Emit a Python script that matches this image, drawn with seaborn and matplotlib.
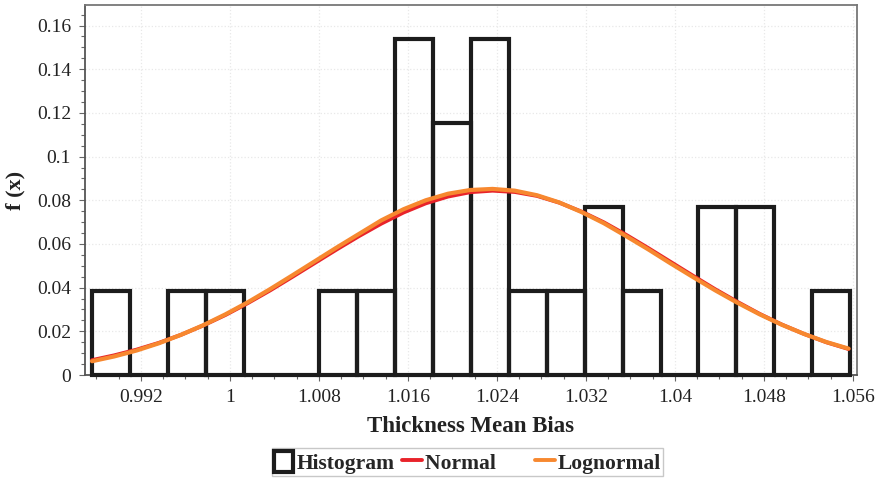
import numpy as np
import pandas as pd
import matplotlib
matplotlib.use("Agg")
import matplotlib.pyplot as plt
import matplotlib.ticker as mticker
from matplotlib.patches import Patch
from matplotlib.lines import Line2D
import seaborn as sns

# ---- data ----
bin_start = 0.9876
bin_width = 0.003407
bin_counts = [1, 0, 1, 1, 0, 0, 1, 1, 4, 3, 4, 1, 1, 2, 1, 0, 2, 2, 0, 1]

curve_x = [0.9876, 0.9896, 0.9916, 0.9936, 0.9956, 0.9976, 0.9996, 1.0016, 1.0036,
           1.0056, 1.0076, 1.0096, 1.0116, 1.0136, 1.0156, 1.0176, 1.0196, 1.0216,
           1.0236, 1.0256, 1.0276, 1.0296, 1.0316, 1.0336, 1.0356, 1.0376, 1.0396,
           1.0416, 1.0436, 1.0456, 1.0476, 1.0496, 1.0516, 1.0536, 1.0556]
normal_y = [0.0068, 0.0090, 0.0116, 0.0147, 0.0184, 0.0227, 0.0275, 0.0329, 0.0387,
            0.0449, 0.0512, 0.0575, 0.0636, 0.0693, 0.0744, 0.0786, 0.0817, 0.0837,
            0.0844, 0.0838, 0.0820, 0.0789, 0.0748, 0.0699, 0.0642, 0.0581, 0.0518,
            0.0455, 0.0393, 0.0335, 0.0280, 0.0231, 0.0188, 0.0150, 0.0119]
lognormal_y = [0.0063, 0.0085, 0.0112, 0.0145, 0.0184, 0.0228, 0.0278, 0.0333, 0.0393,
               0.0456, 0.0520, 0.0584, 0.0646, 0.0708, 0.0759, 0.0800, 0.0830, 0.0847,
               0.0852, 0.0844, 0.0823, 0.0790, 0.0746, 0.0695, 0.0636, 0.0575, 0.0511,
               0.0449, 0.0388, 0.0331, 0.0278, 0.0230, 0.0188, 0.0151, 0.0121]

x_ticks = [0.992, 1.0, 1.008, 1.016, 1.024, 1.032, 1.04, 1.048, 1.056]
y_ticks = [0, 0.02, 0.04, 0.06, 0.08, 0.1, 0.12, 0.14, 0.16]

# ---- style ----
sns.set_theme(style="white")
plt.rcParams["font.family"] = ["Liberation Serif", "DejaVu Serif"]

HIST_C = "#1c1c1c"
RED = "#e8232a"
ORANGE = "#f7882f"

fig = plt.figure(figsize=(8.79, 4.8), dpi=100)
ax = fig.add_axes([85 / 879, 105 / 480, (857 - 85) / 879, (375 - 5) / 480])

edges = [bin_start + bin_width * i for i in range(len(bin_counts) + 1)]
centers = [(edges[i] + edges[i + 1]) / 2 for i in range(len(bin_counts))]
hist_df = pd.DataFrame({"x": centers, "w": bin_counts})
sns.histplot(data=hist_df, x="x", weights="w", bins=edges, stat="probability",
             fill=False, color=HIST_C, linewidth=3.0, ax=ax, zorder=3)
for p in ax.patches:
    p.set_edgecolor(HIST_C)
    p.set_clip_on(False)
    p.set_joinstyle("miter")

curve_df = pd.DataFrame({"x": curve_x, "n": normal_y, "l": lognormal_y})
sns.lineplot(data=curve_df, x="x", y="n", color=RED, linewidth=2.8, ax=ax, zorder=4)
sns.lineplot(data=curve_df, x="x", y="l", color=ORANGE, linewidth=3.0, ax=ax, zorder=5)

ax.set_xlim(0.98697, 1.05636)
ax.set_ylim(0, 0.1694)
ax.set_xticks(x_ticks)
ax.set_yticks(y_ticks)
ax.xaxis.set_minor_locator(mticker.MultipleLocator(0.002))
ax.yaxis.set_minor_locator(mticker.MultipleLocator(0.005))
fmt = mticker.FuncFormatter(lambda v, _: f"{round(v, 4):g}")
ax.xaxis.set_major_formatter(fmt)
ax.yaxis.set_major_formatter(fmt)

ax.tick_params(axis="both", which="both", direction="out", colors="#666666",
               labelcolor="#222222", labelsize=14, width=0.8)
ax.tick_params(axis="both", which="major", length=4, pad=6)
ax.tick_params(axis="both", which="minor", length=3)
ax.tick_params(axis="x", which="both", bottom=True, top=False)
ax.tick_params(axis="y", which="both", left=True, right=False)

ax.grid(True, which="major", color="#e8e8e8", linestyle=":", linewidth=0.9)
ax.set_axisbelow(True)
for side, sp in ax.spines.items():
    sp.set_visible(True)
    sp.set_linewidth(1.3)
    sp.set_color("#555555" if side in ("left", "bottom") else "#777777")

ax.set_xlabel("Thickness Mean Bias", fontsize=16.5, fontweight="bold", color="#222222", labelpad=7)
ax.set_ylabel("f (x)", fontsize=16, fontweight="bold", color="#222222", labelpad=8)

handles = [
    Patch(facecolor="white", edgecolor=HIST_C, linewidth=3.0),
    Line2D([0], [0], color=RED, linewidth=2.8),
    Line2D([0], [0], color=ORANGE, linewidth=2.8),
]
labels = ["Histogram", "Normal      ", "Lognormal"]
leg = fig.legend(handles, labels, loc="lower center", bbox_to_anchor=(0.532, 0.0),
                 ncol=3, frameon=True, fancybox=False, framealpha=1,
                 edgecolor="#c8c8c8", handlelength=0.9, handleheight=1.15,
                 handletextpad=0.15, columnspacing=0.35, borderpad=0.1,
                 borderaxespad=0.2,
                 prop={"family": ["Liberation Serif"], "weight": "bold", "size": 15.5})
leg.get_frame().set_linewidth(1.0)

fig.savefig("out.png", dpi=100)
